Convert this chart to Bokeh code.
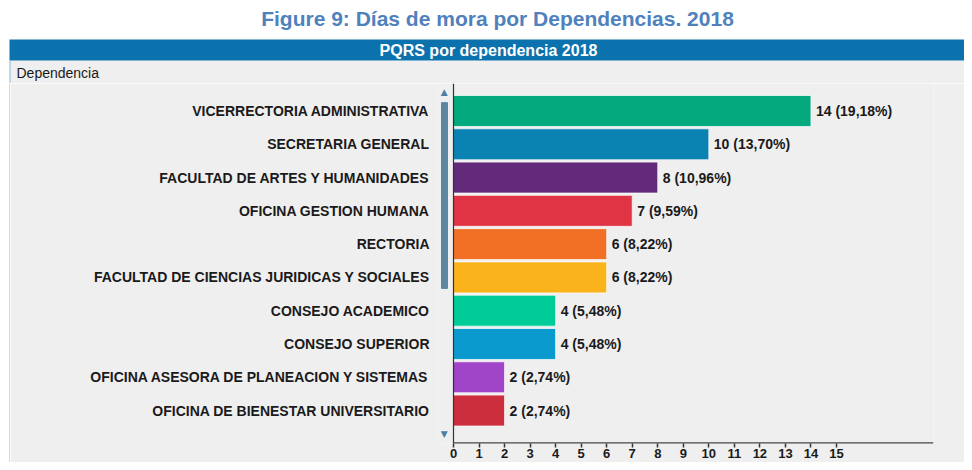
from bokeh.plotting import figure
from bokeh.layouts import column, row
from bokeh.models import Range1d, FixedTicker, ColumnDataSource
from bokeh.core.properties import value
from bokeh.embed import file_html
from bokeh.resources import INLINE

# ---- data (top to bottom as shown) ----
categories = [
    "VICERRECTORIA ADMINISTRATIVA",
    "SECRETARIA GENERAL",
    "FACULTAD DE ARTES Y HUMANIDADES",
    "OFICINA GESTION HUMANA",
    "RECTORIA",
    "FACULTAD DE CIENCIAS JURIDICAS Y SOCIALES",
    "CONSEJO ACADEMICO",
    "CONSEJO SUPERIOR",
    "OFICINA ASESORA DE PLANEACION Y SISTEMAS",
    "OFICINA DE BIENESTAR UNIVERSITARIO",
]
counts = [14, 10, 8, 7, 6, 6, 4, 4, 2, 2]
percents = ["19,18", "13,70", "10,96", "9,59", "8,22", "8,22", "5,48", "5,48", "2,74", "2,74"]
bar_colors = ["#03A87C", "#0A82B2", "#632A7C", "#E03444", "#F26F26",
              "#FAB31B", "#00CC99", "#0A9ACD", "#A044C8", "#CC2E3E"]
x_ticks = list(range(0, 16))

fig_title = "Figure 9: Días de mora por Dependencias. 2018"
panel_title = "PQRS por dependencia 2018"
axis_title = "Dependencia"

FONT = value("Liberation Sans")
PANEL = "#EFEFEF"
EDGE = "#8DBBDD"
W = 964
TOTAL_H = 462

# ---------------- top strip: caption, header bar, axis title ----------------
TOP_H = 83
top = figure(width=W, height=TOP_H, output_backend="svg", toolbar_location=None,
             x_range=Range1d(0, W), y_range=Range1d(TOP_H, 0),
             x_axis_location=None, y_axis_location=None,
             min_border=0, outline_line_color=None,
             background_fill_color="white", border_fill_color="white")
top.frame_align = False
top.grid.visible = False
top.quad(left=9, right=W, bottom=60, top=TOP_H, fill_color=PANEL, line_color=None)
top.quad(left=9, right=W, bottom=39, top=60, fill_color="#0B72AD", line_color=None)
top.quad(left=9, right=10, bottom=60, top=TOP_H, fill_color=EDGE, line_color=None)
top.text(x=[497], y=[18], text=[fig_title], text_align="center", text_baseline="middle",
         text_font=FONT, text_font_style="bold", text_font_size="21px", text_color="#4F81BD")
top.text(x=[488], y=[49.5], text=[panel_title], text_align="center", text_baseline="middle",
         text_font=FONT, text_font_style="bold", text_font_size="16px", text_color="white")
top.text(x=[16], y=[72], text=[axis_title], text_align="left", text_baseline="middle",
         text_font=FONT, text_font_size="14px", text_color="#1a1a1a")

# ---------------- left edge strip ----------------
MAIN_H = TOTAL_H - TOP_H
LEFT_W = 10
edge = figure(width=LEFT_W, height=MAIN_H, output_backend="svg", toolbar_location=None,
              x_range=Range1d(0, LEFT_W), y_range=Range1d(0, MAIN_H),
              x_axis_location=None, y_axis_location=None,
              min_border=0, outline_line_color=None,
              background_fill_color="white", border_fill_color="white")
edge.frame_align = False
edge.grid.visible = False
edge.quad(left=9, right=10, bottom=0, top=MAIN_H, fill_color=EDGE, line_color=None)

# ---------------- main chart ----------------
n = len(categories)
ypos = [n - 1 - i for i in range(n)]
labels = [f"{c} ({p}%)" for c, p in zip(counts, percents)]
src = ColumnDataSource(dict(y=ypos, v=counts, color=bar_colors, lbl=labels))

MW = W - LEFT_W
X0, X1 = -0.5875, 18.8
Y0, Y1 = -0.99, 9.826
p = figure(width=MW, height=MAIN_H, output_backend="svg", toolbar_location=None,
           x_range=Range1d(X0, X1), y_range=Range1d(Y0, Y1),
           min_border_left=438 - LEFT_W, min_border_right=W - 933,
           min_border_top=0, min_border_bottom=MAIN_H - 360,
           background_fill_color=PANEL, border_fill_color=PANEL, outline_line_color=None)
p.frame_align = False
p.grid.visible = False

p.hbar(y="y", right="v", left=0, height=0.93, fill_color="color",
       line_color="white", line_alpha=0.7, line_width=1, source=src)
p.text(x="v", y="y", text="lbl", x_offset=5, text_baseline="middle",
       text_font=FONT, text_font_style="bold", text_font_size="14px",
       text_color="#1a1a1a", source=src)

# axis lines starting at zero
p.segment(x0=[0], y0=[Y0], x1=[0], y1=[Y1], line_color="#333333", line_width=1.2)
p.segment(x0=[0], y0=[Y0], x1=[X1], y1=[Y0], line_color="#444444", line_width=2.5)

# scroll bar decoration
p.quad(left=[-0.47], right=[-0.235], bottom=[3.67], top=[9.25],
       fill_color="#5C87A3", line_color="#5C87A3", line_width=1)
p.text(x=[-0.36, -0.36], y=[9.57, -0.69], text=["▲", "▼"], text_align="center",
       text_baseline="middle", text_font=value("DejaVu Sans"), text_font_size="9px",
       text_color="#4A7FA0")

xa = p.xaxis[0]
xa.ticker = FixedTicker(ticks=x_ticks)
xa.axis_line_color = None
xa.major_tick_line_color = "#333333"
xa.major_tick_line_width = 1.5
xa.major_tick_in = 0
xa.major_tick_out = 4
xa.minor_tick_line_color = None
xa.major_label_standoff = 1
xa.major_label_text_font = "Liberation Sans"
xa.major_label_text_font_style = "bold"
xa.major_label_text_font_size = "13px"
xa.major_label_text_color = "#1a1a1a"

ya = p.yaxis[0]
ya.ticker = FixedTicker(ticks=ypos)
ya.major_label_overrides = {y: c for y, c in zip(ypos, categories)}
ya.axis_line_color = None
ya.major_tick_line_color = None
ya.minor_tick_line_color = None
ya.major_label_standoff = 3
ya.major_label_text_font = "Liberation Sans"
ya.major_label_text_font_style = "bold"
ya.major_label_text_font_size = "14px"
ya.major_label_text_color = "#1a1a1a"

layout = column(top, row(edge, p, spacing=0), spacing=0)
open("out.html", "w").write(file_html(layout, INLINE))
